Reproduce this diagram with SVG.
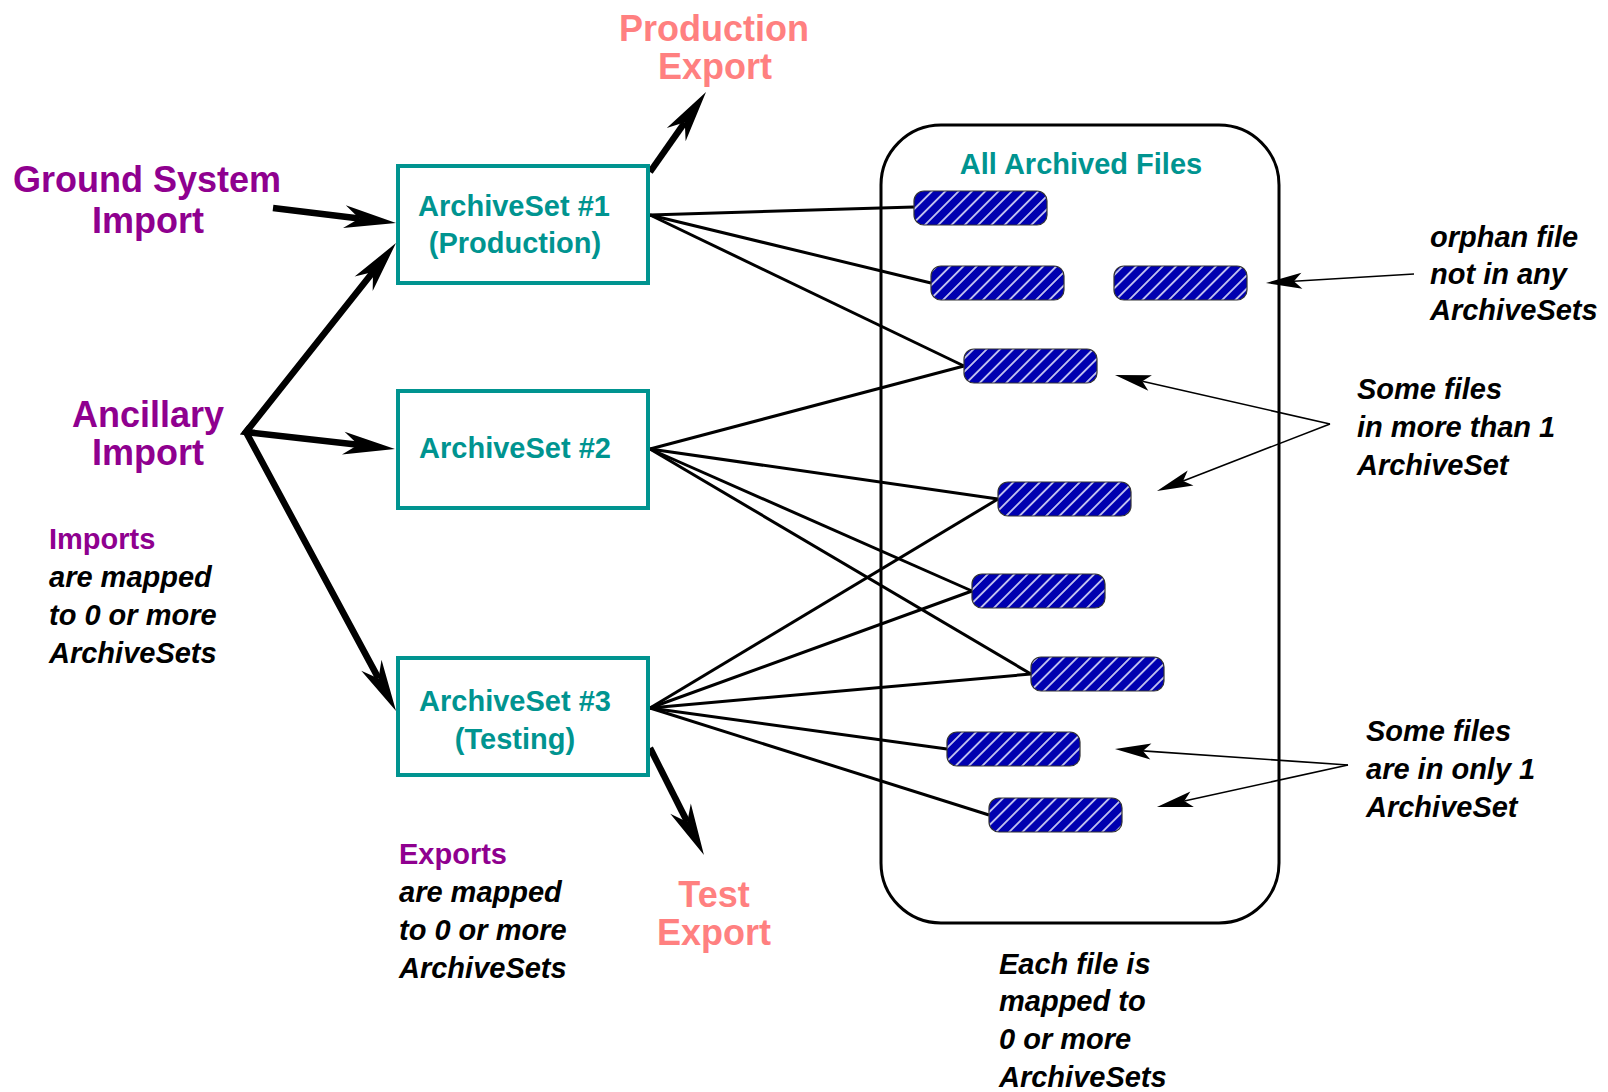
<svg xmlns="http://www.w3.org/2000/svg" width="1608" height="1092" viewBox="0 0 1608 1092">
  <defs>
    <style>
      .big { font-family: "Liberation Sans", Arial, sans-serif; font-weight: bold; font-size: 36px; text-anchor: middle; }
      .imp { fill: #8f008f; }
      .exp { fill: #ff8080; }
      .set { font-family: "Liberation Sans", Arial, sans-serif; font-weight: bold; font-size: 29px; fill: #009490; text-anchor: middle; }
      .lbl { font-family: "Liberation Sans", Arial, sans-serif; font-weight: bold; font-size: 29px; fill: #8f008f; }
      .note { font-family: "Liberation Sans", Arial, sans-serif; font-weight: bold; font-style: italic; font-size: 29px; fill: #000; }
      .box { fill: none; stroke: #009490; stroke-width: 4; }
      .file { fill: url(#hatch); stroke: #333; stroke-width: 1.2; }
      .link { stroke: #000; stroke-width: 3; fill: none; }
      .flow { stroke: #000; stroke-width: 6.5; fill: none; stroke-linejoin: miter; stroke-miterlimit: 10; }
      .hint { stroke: #000; stroke-width: 1.6; fill: none; marker-end: url(#thinHead); }
    </style>
    <!-- diagonal white hatching over dark blue -->
    <pattern id="hatch" patternUnits="userSpaceOnUse" width="9.4" height="9.4" patternTransform="rotate(45)">
      <rect width="9.4" height="9.4" fill="#0000b0"/>
      <line x1="4.7" y1="0" x2="4.7" y2="9.4" stroke="#f0f0ff" stroke-width="1.5"/>
    </pattern>
    <!-- notched arrowheads; the line stops at the notch, the tip extends forward -->
    <marker id="bigHead" markerUnits="userSpaceOnUse" orient="auto-start-reverse" refX="0" refY="0" overflow="visible">
      <path d="M37,0 L-15,-11.5 L0,0 L-15,11.5 Z" fill="#000"/>
    </marker>
    <marker id="thinHead" markerUnits="userSpaceOnUse" orient="auto" refX="0" refY="0" overflow="visible">
      <path d="M28,0 L-8,-8 L0,0 L-8,8 Z" fill="#000"/>
    </marker>
  </defs>

  <rect width="1608" height="1092" fill="#fff"/>

  <!-- file store -->
  <g id="archived-files">
    <rect x="881" y="125" width="398" height="798" rx="60" ry="60" fill="none" stroke="#000" stroke-width="3"/>
    <text class="set" x="1081" y="174">All Archived Files</text>
  </g>

  <!-- links between archive sets and files, plus flow arrows -->
  <g id="connectors">
    <line class="link" x1="650" y1="215" x2="914" y2="207"/>
    <line class="link" x1="650" y1="215" x2="931" y2="283"/>
    <line class="link" x1="650" y1="215" x2="964" y2="366"/>

    <line class="link" x1="650" y1="449" x2="964" y2="366"/>
    <line class="link" x1="650" y1="449" x2="998" y2="499"/>
    <line class="link" x1="650" y1="449" x2="972" y2="591"/>
    <line class="link" x1="650" y1="449" x2="1031" y2="674"/>

    <line class="link" x1="650" y1="708" x2="998" y2="499"/>
    <line class="link" x1="650" y1="708" x2="972" y2="591"/>
    <line class="link" x1="650" y1="708" x2="1031" y2="674"/>
    <line class="link" x1="650" y1="708" x2="947" y2="749"/>
    <line class="link" x1="650" y1="708" x2="989" y2="815"/>

    <!-- imports -->
    <line class="flow" x1="273" y1="208" x2="359.3" y2="218.5" marker-end="url(#bigHead)"/>
    <path class="flow" d="M373,272 L246,432 L358.2,444.8" marker-start="url(#bigHead)" marker-end="url(#bigHead)"/>
    <path class="flow" d="M250,427 L246,432 L378.5,678.4" marker-end="url(#bigHead)"/>

    <!-- exports -->
    <line class="flow" x1="650" y1="172" x2="684.8" y2="122.3" marker-end="url(#bigHead)"/>
    <line class="flow" x1="650" y1="748" x2="687.3" y2="822" marker-end="url(#bigHead)"/>

    <!-- annotation pointers -->
    <line class="hint" x1="1414" y1="274" x2="1293.9" y2="281.3"/>
    <line class="hint" x1="1330" y1="424" x2="1142.3" y2="381.2"/>
    <line class="hint" x1="1330" y1="424" x2="1183.1" y2="480.9"/>
    <line class="hint" x1="1348" y1="765" x2="1142.9" y2="750.9"/>
    <line class="hint" x1="1348" y1="765" x2="1184.3" y2="801"/>
  </g>

  <!-- files -->
  <g id="file-1"><rect class="file" x="914" y="191" width="133" height="34" rx="10"/></g>
  <g id="file-2"><rect class="file" x="931" y="266" width="133" height="34" rx="10"/></g>
  <g id="file-orphan"><rect class="file" x="1114" y="266" width="133" height="34" rx="10"/></g>
  <g id="file-3"><rect class="file" x="964" y="349" width="133" height="34" rx="10"/></g>
  <g id="file-4"><rect class="file" x="998" y="482" width="133" height="34" rx="10"/></g>
  <g id="file-5"><rect class="file" x="972" y="574" width="133" height="34" rx="10"/></g>
  <g id="file-6"><rect class="file" x="1031" y="657" width="133" height="34" rx="10"/></g>
  <g id="file-7"><rect class="file" x="947" y="732" width="133" height="34" rx="10"/></g>
  <g id="file-8"><rect class="file" x="989" y="798" width="133" height="34" rx="10"/></g>

  <!-- archive sets -->
  <g id="archiveset-1">
    <rect class="box" x="398" y="166" width="250" height="117"/>
    <text class="set" x="514" y="216">ArchiveSet #1</text>
    <text class="set" x="515" y="253">(Production)</text>
  </g>
  <g id="archiveset-2">
    <rect class="box" x="398" y="391" width="250" height="117"/>
    <text class="set" x="515" y="458">ArchiveSet #2</text>
  </g>
  <g id="archiveset-3">
    <rect class="box" x="398" y="658" width="250" height="117"/>
    <text class="set" x="515" y="711">ArchiveSet #3</text>
    <text class="set" x="515" y="749">(Testing)</text>
  </g>

  <!-- sources and sinks -->
  <g id="ground-system-import">
    <text class="big imp" x="147" y="192">Ground System</text>
    <text class="big imp" x="148" y="233">Import</text>
  </g>
  <g id="ancillary-import">
    <text class="big imp" x="148" y="427">Ancillary</text>
    <text class="big imp" x="148" y="465">Import</text>
  </g>
  <g id="production-export">
    <text class="big exp" x="714" y="41">Production</text>
    <text class="big exp" x="715" y="79">Export</text>
  </g>
  <g id="test-export">
    <text class="big exp" x="714" y="907">Test</text>
    <text class="big exp" x="714" y="945">Export</text>
  </g>

  <!-- notes -->
  <g id="imports-note">
    <text class="lbl" x="49" y="549">Imports</text>
    <text class="note" x="49" y="587">are mapped</text>
    <text class="note" x="49" y="625">to 0 or more</text>
    <text class="note" x="49" y="663">ArchiveSets</text>
  </g>
  <g id="exports-note">
    <text class="lbl" x="399" y="864">Exports</text>
    <text class="note" x="399" y="902">are mapped</text>
    <text class="note" x="399" y="940">to 0 or more</text>
    <text class="note" x="399" y="978">ArchiveSets</text>
  </g>
  <g id="orphan-note">
    <text class="note" x="1430" y="247">orphan file</text>
    <text class="note" x="1430" y="284">not in any</text>
    <text class="note" x="1430" y="320">ArchiveSets</text>
  </g>
  <g id="shared-note">
    <text class="note" x="1357" y="399">Some files</text>
    <text class="note" x="1357" y="437">in more than 1</text>
    <text class="note" x="1357" y="475">ArchiveSet</text>
  </g>
  <g id="single-note">
    <text class="note" x="1366" y="741">Some files</text>
    <text class="note" x="1366" y="779">are in only 1</text>
    <text class="note" x="1366" y="817">ArchiveSet</text>
  </g>
  <g id="mapping-note">
    <text class="note" x="999" y="974">Each file is</text>
    <text class="note" x="999" y="1011">mapped to</text>
    <text class="note" x="999" y="1049">0 or more</text>
    <text class="note" x="999" y="1087">ArchiveSets</text>
  </g>
</svg>
